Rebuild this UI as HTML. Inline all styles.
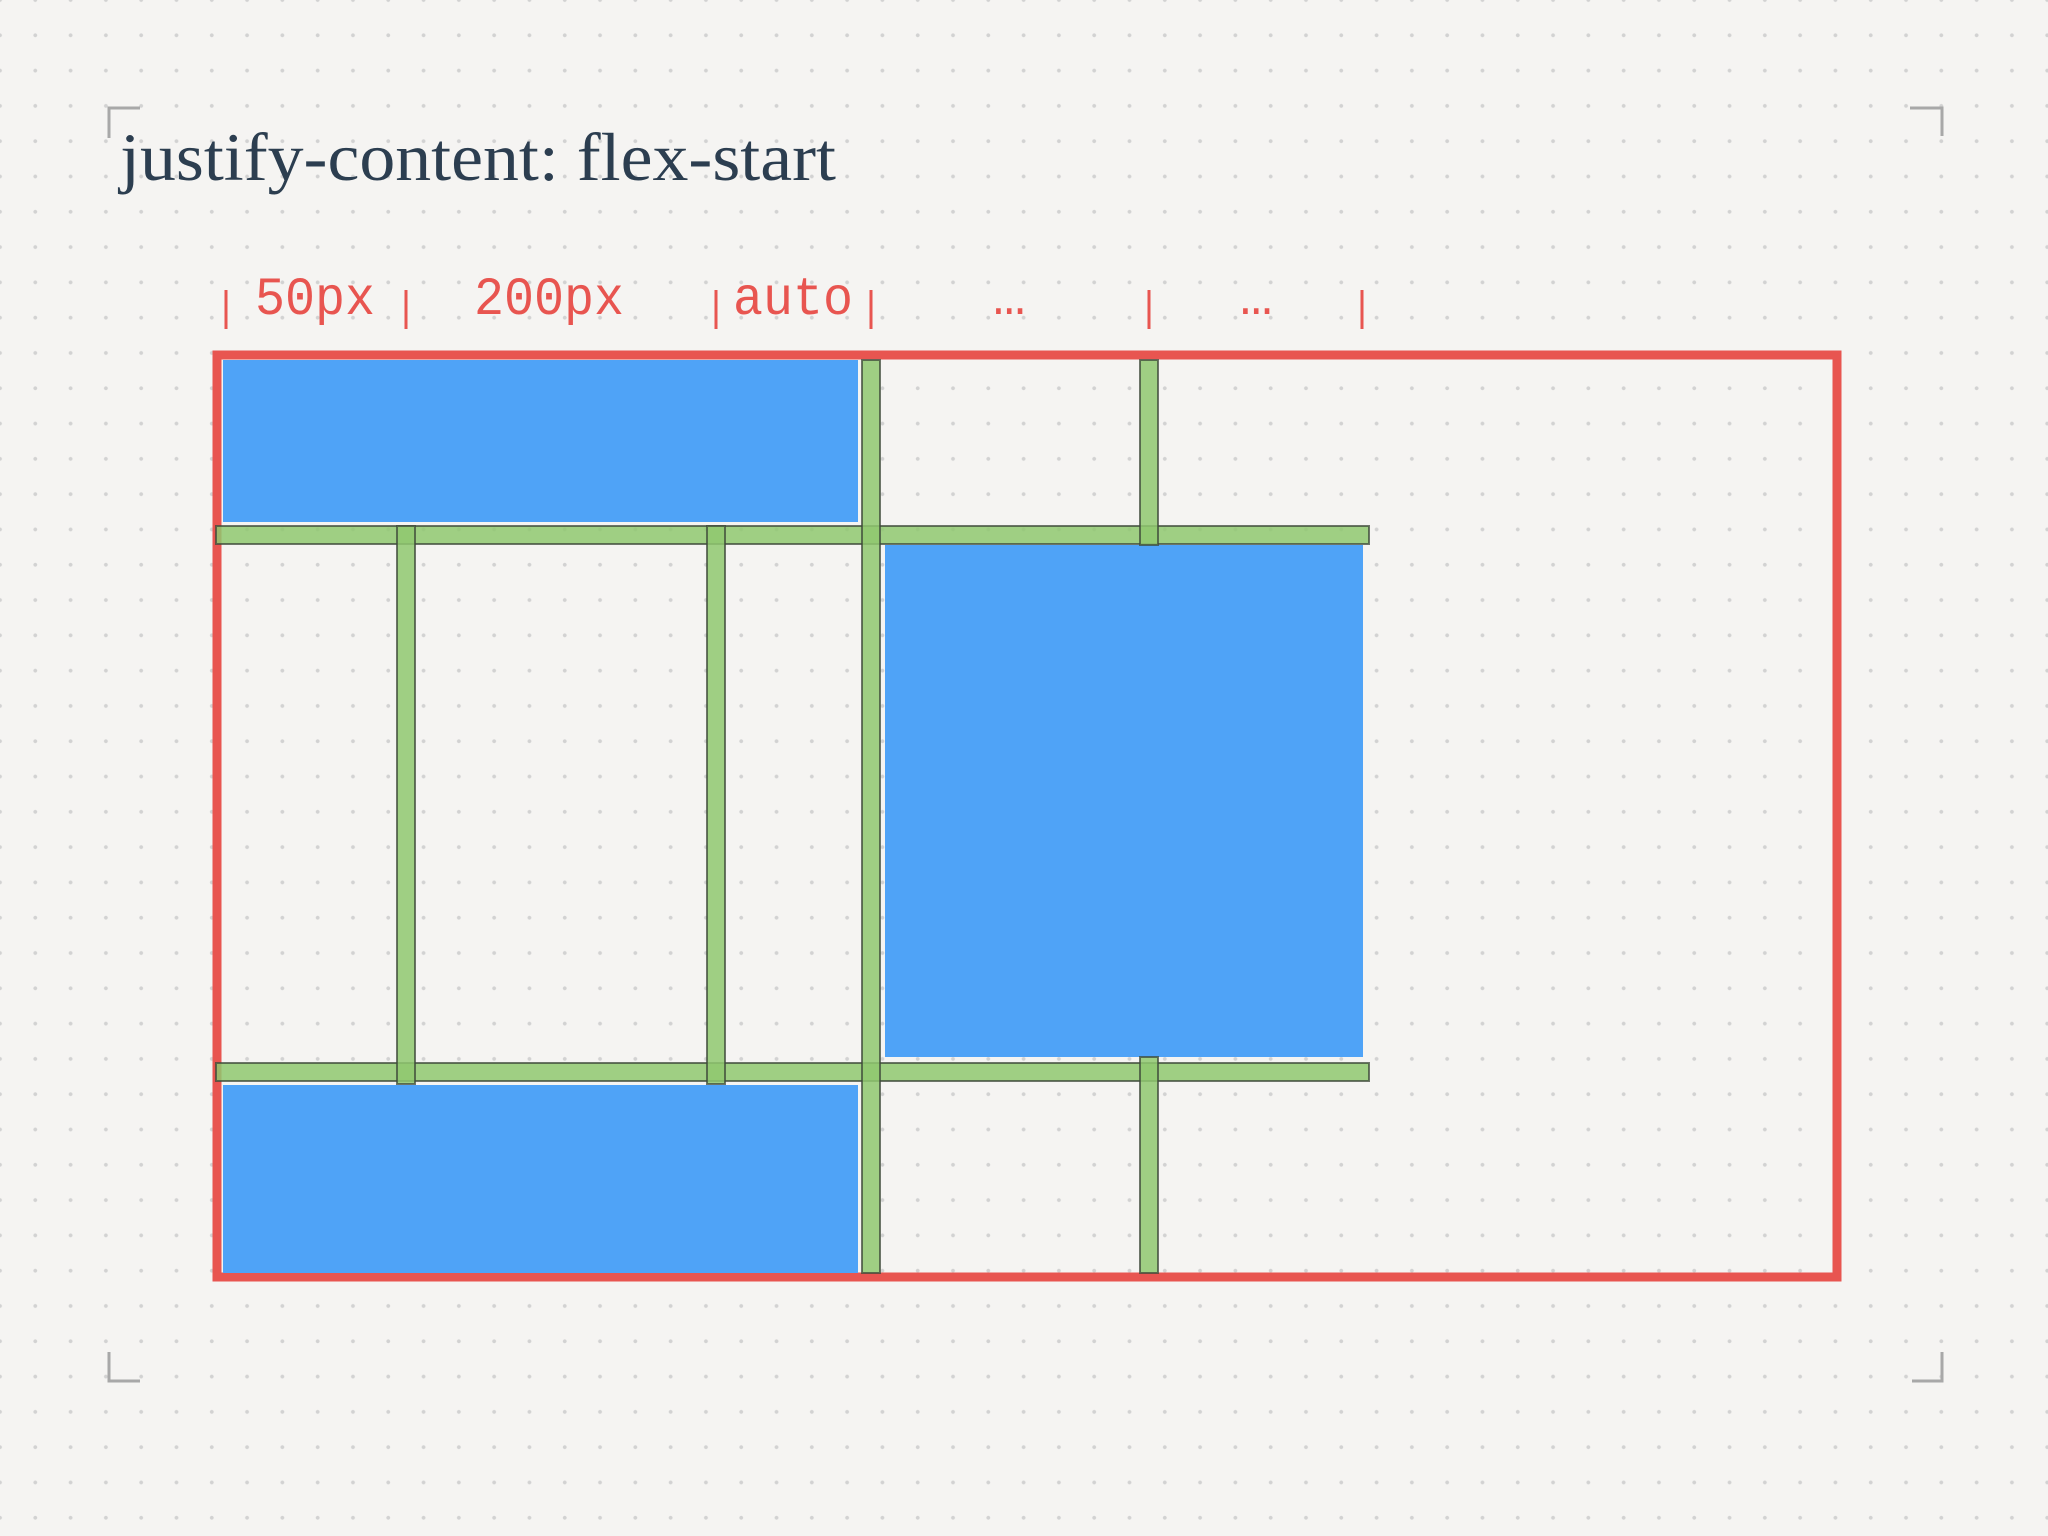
<!DOCTYPE html>
<html><head><meta charset="utf-8"><style>
html,body{margin:0;padding:0}
body{width:2048px;height:1536px;overflow:hidden;background-color:#f5f4f2;
background-image:radial-gradient(circle,#d2d2d2 1.6px,transparent 2.2px);
background-size:35.3px 35.3px;background-position:17.65px 17.65px}
svg{position:absolute;left:0;top:0}
</style></head><body>
<svg width="2048" height="1536" viewBox="0 0 2048 1536" xmlns="http://www.w3.org/2000/svg">
<g stroke="#a8a8a8" stroke-width="3" fill="none">
<path d="M109 138 V108 H140"/>
<path d="M1910 108 H1942 V136"/>
<path d="M109 1352 V1381 H140"/>
<path d="M1942 1352 V1381 H1912"/>
</g>
<text x="120" y="180" font-family="Liberation Serif, serif" font-size="68" fill="#2c3e50" textLength="716" lengthAdjust="spacingAndGlyphs">justify-content: flex-start</text>
<g font-family="Liberation Mono, monospace" font-size="54" fill="#e85550">
<text x="255" y="314" textLength="120" lengthAdjust="spacingAndGlyphs">50px</text>
<text x="474" y="314" textLength="150" lengthAdjust="spacingAndGlyphs">200px</text>
<text x="733" y="314" textLength="120" lengthAdjust="spacingAndGlyphs">auto</text>
<text x="993" y="314">…</text>
<text x="1240" y="314">…</text>
</g>
<g stroke="#e85550" stroke-width="3">
<line x1="226" y1="290" x2="226" y2="329"/><line x1="406" y1="290" x2="406" y2="329"/>
<line x1="716" y1="290" x2="716" y2="329"/><line x1="871" y1="290" x2="871" y2="329"/>
<line x1="1149" y1="290" x2="1149" y2="329"/><line x1="1362" y1="290" x2="1362" y2="329"/>
</g>
<rect x="217" y="355" width="1620" height="922" fill="none" stroke="#e85550" stroke-width="9"/>
<g fill="#4fa3f7">
<rect x="223" y="360" width="635" height="162"/>
<rect x="885" y="545" width="478" height="512"/>
<rect x="223" y="1085" width="635" height="188"/>
</g>
<g fill="#8fc870" fill-opacity="0.85" stroke="#3d4a3a" stroke-opacity="0.75" stroke-width="2">
<rect x="216" y="526" width="1153" height="18"/>
<rect x="216" y="1063" width="1153" height="18"/>
<rect x="397" y="526" width="18" height="558"/>
<rect x="707" y="526" width="18" height="558"/>
<rect x="862" y="360" width="18" height="913"/>
<rect x="1140" y="360" width="18" height="185"/>
<rect x="1140" y="1057" width="18" height="216"/>
</g>
</svg>
</body></html>
